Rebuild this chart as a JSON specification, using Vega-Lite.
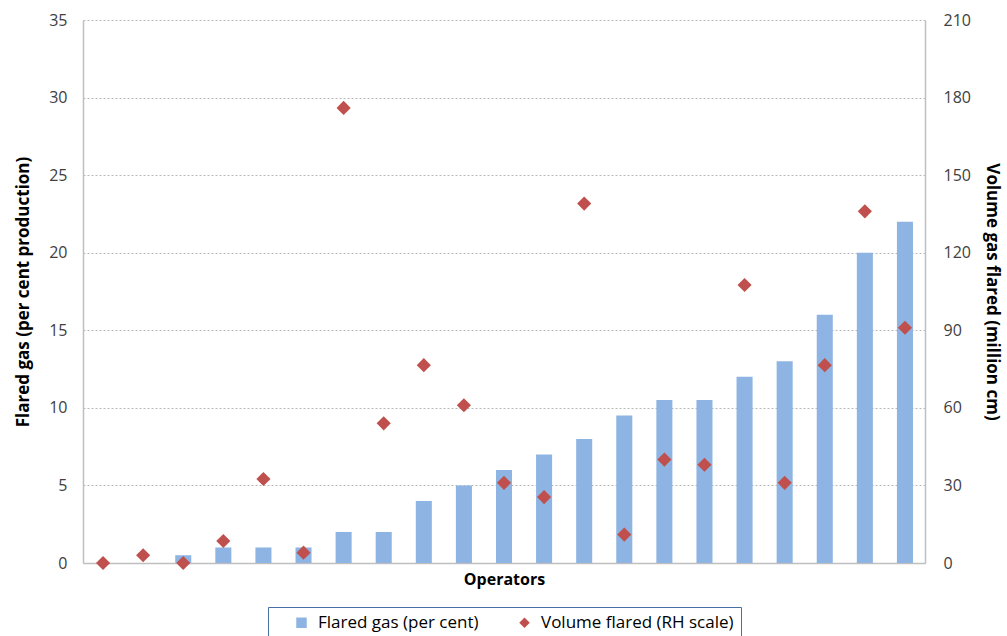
{
  "$schema": "https://vega.github.io/schema/vega-lite/v6.json",
  "width": 842,
  "height": 543,
  "autosize": {"type": "none"},
  "padding": {"left": 83, "top": 20, "right": 82, "bottom": 73},
  "background": "white",
  "config": {"view": {"stroke": null}, "font": "Open Sans"},
  "data": {
    "values": [
      {"op": 1, "pct": 0, "vol": 0},
      {"op": 2, "pct": 0, "vol": 3},
      {"op": 3, "pct": 0.5, "vol": 0},
      {"op": 4, "pct": 1, "vol": 8.5},
      {"op": 5, "pct": 1, "vol": 32.5},
      {"op": 6, "pct": 1, "vol": 4},
      {"op": 7, "pct": 2, "vol": 176},
      {"op": 8, "pct": 2, "vol": 54},
      {"op": 9, "pct": 4, "vol": 76.5},
      {"op": 10, "pct": 5, "vol": 61},
      {"op": 11, "pct": 6, "vol": 31},
      {"op": 12, "pct": 7, "vol": 25.5},
      {"op": 13, "pct": 8, "vol": 139},
      {"op": 14, "pct": 9.5, "vol": 11},
      {"op": 15, "pct": 10.5, "vol": 40},
      {"op": 16, "pct": 10.5, "vol": 38},
      {"op": 17, "pct": 12, "vol": 107.5},
      {"op": 18, "pct": 13, "vol": 31},
      {"op": 19, "pct": 16, "vol": 76.5},
      {"op": 20, "pct": 20, "vol": 136},
      {"op": 21, "pct": 22, "vol": 91}
    ]
  },
  "encoding": {
    "x": {
      "field": "op",
      "type": "ordinal",
      "sort": null,
      "scale": {"paddingInner": 0, "paddingOuter": 0},
      "axis": {
        "labels": false,
        "ticks": false,
        "title": "Operators",
        "titleFontSize": 16,
        "titleFontWeight": "bold",
        "titleColor": "#000000",
        "titlePadding": 8,
        "domainColor": "#BFBFBF",
        "domainWidth": 1.5
      }
    }
  },
  "layer": [
    {
      "mark": {"type": "bar", "width": {"band": 0.4}},
      "encoding": {
        "y": {
          "field": "pct",
          "type": "quantitative",
          "scale": {"domain": [0, 35], "nice": false},
          "axis": {
            "title": "Flared gas (per cent production)",
            "values": [0, 5, 10, 15, 20, 25, 30, 35],
            "ticks": false,
            "labelPadding": 16,
            "labelFontSize": 16,
            "labelColor": "#404040",
            "titleFontSize": 17,
            "titleFontWeight": "bold",
            "titleColor": "#000000",
            "titlePadding": 16,
            "grid": true,
            "gridColor": "#A6A6A6",
            "gridDash": [2, 2],
            "gridWidth": 0.8,
            "domainColor": "#BFBFBF",
            "domainWidth": 1.5
          }
        },
        "color": {
          "datum": "Flared gas (per cent)",
          "type": "nominal",
          "scale": {
            "domain": ["Flared gas (per cent)", "Volume flared (RH scale)"],
            "range": ["#8DB4E2", "#C0504D"]
          },
          "legend": {
            "title": " ",
            "titleOrient": "left",
            "titlePadding": 18,
            "orient": "none",
            "legendX": 185,
            "legendY": 587,
            "direction": "horizontal",
            "strokeColor": "#4A6FA5",
            "padding": 7,
            "labelFontSize": 17,
            "labelLimit": 400,
            "labelColor": "#000000",
            "symbolSize": 110,
            "symbolOpacity": 1,
            "columnPadding": 37,
            "labelOffset": 8,
            "encode": {
              "symbols": {
                "update": {
                  "shape": {"signal": "datum.value === 'Flared gas (per cent)' ? 'square' : 'diamond'"},
                  "strokeWidth": {"value": 0}
                }
              }
            }
          }
        }
      }
    },
    {
      "mark": {"type": "point", "shape": "diamond", "filled": true, "size": 200, "opacity": 1},
      "encoding": {
        "y": {
          "field": "vol",
          "type": "quantitative",
          "scale": {"domain": [0, 210], "nice": false},
          "axis": {
            "orient": "right",
            "title": "Volume gas flared (million cm)",
            "values": [0, 30, 60, 90, 120, 150, 180, 210],
            "ticks": false,
            "grid": false,
            "labelPadding": 18,
            "labelFontSize": 16,
            "labelColor": "#404040",
            "titleFontSize": 17,
            "titleFontWeight": "bold",
            "titleColor": "#000000",
            "titlePadding": 12,
            "domainColor": "#BFBFBF",
            "domainWidth": 1.5
          }
        },
        "color": {"datum": "Volume flared (RH scale)", "type": "nominal"}
      }
    }
  ],
  "resolve": {"scale": {"y": "independent"}}
}
